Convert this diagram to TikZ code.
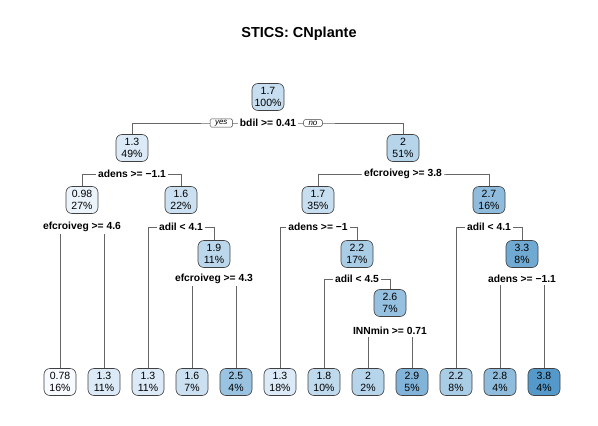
\documentclass[tikz,border=0pt]{standalone}
\usepackage{fontspec}
\setmainfont{Liberation Sans}
\usetikzlibrary{positioning}
\pgfdeclarelayer{bg}
\pgfsetlayers{bg,main}
\definecolor{lo}{HTML}{F7FBFF}
\definecolor{hi}{HTML}{5499CA}
\tikzset{
  box/.style={draw=black!75, line width=0.6pt, rounded corners=6pt, fill=hi!#1!lo,
    minimum width=32pt, minimum height=27pt, inner sep=1pt, align=center,
    font=\fontsize{10.5}{12.3}\selectfont},
  split/.style={fill=white, inner sep=2pt, font=\bfseries\fontsize{10.3}{12}\selectfont},
  yesno/.style={draw=black!75, line width=0.5pt, rounded corners=1.5pt, fill=white,
    inner xsep=5pt, inner ysep=1.2pt, font=\itshape\fontsize{8}{9}\selectfont},
  link/.style={draw=black!60, line width=0.8pt}
}

\begin{document}
\begin{tikzpicture}[x=1pt, y=-1pt]
  \useasboundingbox (0,0) rectangle (598,426);
  \node[font=\bfseries\fontsize{14.5}{16}\selectfont] (title) at (299,34) {STICS: CNplante};

  \node[box=30] (n1) at (268,97) {1.7\\100\%};
  \node[box=17] (n2) at (132,148) {1.3\\49\%};
  \node[box=40] (n3) at (403,148) {2\\51\%};
  \node[box=7] (n4) at (82,200) {0.98\\27\%};
  \node[box=27] (n5) at (181,200) {1.6\\22\%};
  \node[box=30] (n6) at (318,200) {1.7\\35\%};
  \node[box=64] (n7) at (489,200) {2.7\\16\%};
  \node[box=37] (n11) at (214,254) {1.9\\11\%};
  \node[box=47] (n13) at (357,254) {2.2\\17\%};
  \node[box=83] (n15) at (522,254) {3.3\\8\%};
  \node[box=60] (n27) at (390,303) {2.6\\7\%};

  \node[box=0] (n8) at (60,382) {0.78\\16\%};
  \node[box=17] (n9) at (104,382) {1.3\\11\%};
  \node[box=17] (n10) at (148,382) {1.3\\11\%};
  \node[box=27] (n22) at (192,382) {1.6\\7\%};
  \node[box=57] (n23) at (236,382) {2.5\\4\%};
  \node[box=17] (n12) at (280,382) {1.3\\18\%};
  \node[box=34] (n26) at (324,382) {1.8\\10\%};
  \node[box=40] (n54) at (368,382) {2\\2\%};
  \node[box=72] (n55) at (412,382) {2.9\\5\%};
  \node[box=47] (n14) at (456,382) {2.2\\8\%};
  \node[box=64] (n30) at (500,382) {2.8\\4\%};
  \node[box=100] (n31) at (544,382) {3.8\\4\%};

  \node[split] (s1) at (268,123) {bdil >= 0.41};
  \node[split] (s2) at (132,174) {adens >= −1.1};
  \node[split] (s3) at (403,174) {efcroiveg >= 3.8};
  \node[split] (s4) at (82,227) {efcroiveg >= 4.6};
  \node[split] (s5) at (181,227) {adil < 4.1};
  \node[split] (s6) at (318,227) {adens >= −1};
  \node[split] (s7) at (489,227) {adil < 4.1};
  \node[split] (s11) at (214,279) {efcroiveg >= 4.3};
  \node[split] (s13) at (357,279) {adil < 4.5};
  \node[split] (s15) at (522,279) {adens >= −1.1};
  \node[split] (s27) at (390,331) {INNmin >= 0.71};

  \node[yesno, left=5pt of s1] (yes) {yes};
  \node[yesno, right=5pt of s1] (no) {no};

  \begin{pgfonlayer}{bg}
    \draw[link] (n2.north) |- (s1.center) -| (n3.north);
    \draw[link] (n4.north) |- (s2.center) -| (n5.north);
    \draw[link] (n6.north) |- (s3.center) -| (n7.north);
    \draw[link] (n8.north) |- (s4.center) -| (n9.north);
    \draw[link] (n10.north) |- (s5.center) -| (n11.north);
    \draw[link] (n12.north) |- (s6.center) -| (n13.north);
    \draw[link] (n14.north) |- (s7.center) -| (n15.north);
    \draw[link] (n22.north) |- (s11.center) -| (n23.north);
    \draw[link] (n26.north) |- (s13.center) -| (n27.north);
    \draw[link] (n30.north) |- (s15.center) -| (n31.north);
    \draw[link] (n54.north) |- (s27.center) -| (n55.north);
  \end{pgfonlayer}
\end{tikzpicture}
\end{document}
